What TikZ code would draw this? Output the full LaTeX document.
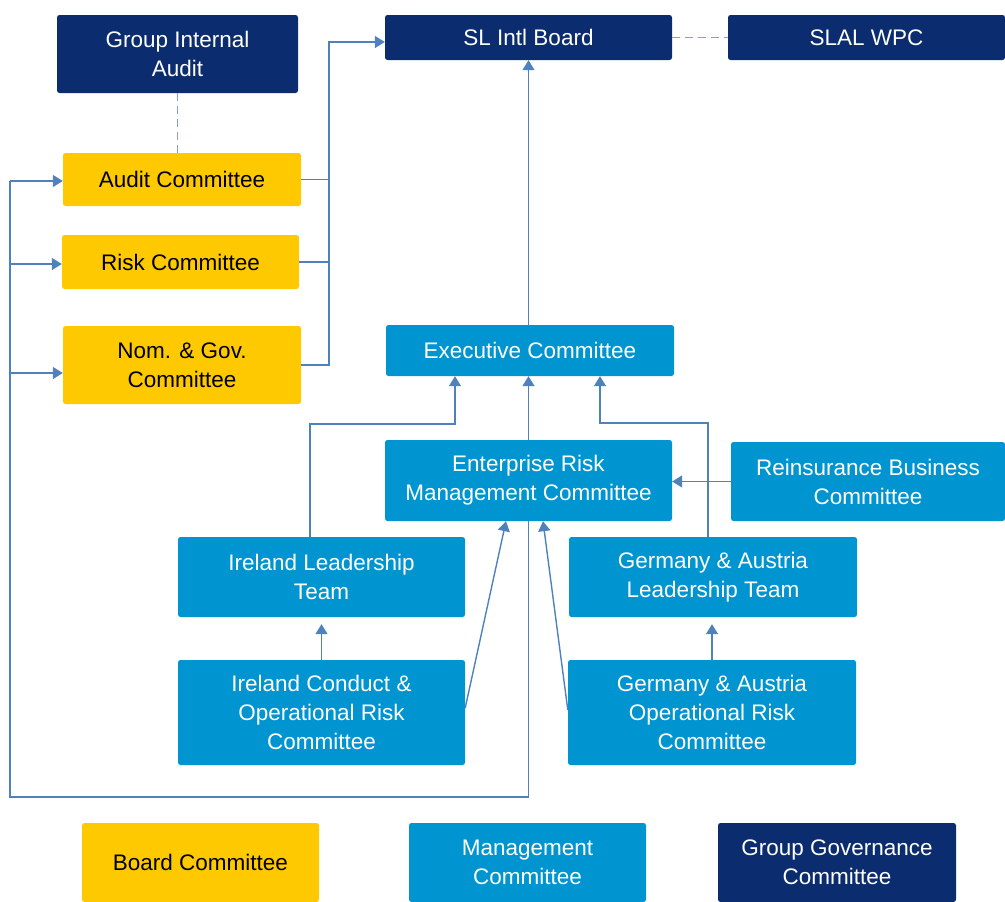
\documentclass[tikz,border=0pt]{standalone}
\usepackage{fontspec}
\setmainfont{Liberation Sans}
\usetikzlibrary{arrows.meta}
\definecolor{navy}{RGB}{11,45,111}
\definecolor{sky}{RGB}{0,149,208}
\definecolor{gold}{RGB}{255,201,0}
\definecolor{wire}{RGB}{79,129,189}
\definecolor{dashc}{RGB}{130,160,215}
\tikzset{
  box/.style={rounded corners=2.5pt, inner sep=0pt, align=center, font=\fontsize{22.5}{29}\selectfont},
  navybox/.style={box, fill=navy, text=white},
  skybox/.style={box, fill=sky, text=white},
  goldbox/.style={box, fill=gold, text=black},
  wireline/.style={draw=wire, line width=1.4pt},
  arr/.style={wireline, -{Triangle[length=10pt,width=12pt]}},
  dashline/.style={draw=dashc, line width=1.5pt, dash pattern=on 8pt off 5pt},
}
\begin{document}
\begin{tikzpicture}[x=1pt,y=-1pt]
\useasboundingbox (0,0) rectangle (1005,902);
% top row
\node[navybox, minimum width=241pt, minimum height=78pt] (gia) at (177.5,54) {Group Internal\\Audit};
\node[navybox, minimum width=287pt, minimum height=45pt] (brd) at (528.5,37.5) {SL Intl Board};
\node[navybox, minimum width=277pt, minimum height=45pt] (slal) at (866.5,37.5) {SLAL WPC};
% board committees
\node[goldbox, minimum width=238pt, minimum height=53pt] (audit) at (182,179.5) {Audit Committee};
\node[goldbox, minimum width=237pt, minimum height=54pt] (risk) at (180.5,262) {Risk Committee};
\node[goldbox, minimum width=238pt, minimum height=78pt] (nom) at (182,365) {Nom. \& Gov.\\Committee};
% management
\node[skybox, minimum width=288pt, minimum height=51pt] (exec) at (530,350.5) {Executive Committee};
\node[skybox, minimum width=287pt, minimum height=81pt] (erm) at (528.5,480.5) {Enterprise Risk\\Management Committee};
\node[skybox, minimum width=274pt, minimum height=79pt] (reins) at (868,481.5) {Reinsurance Business\\Committee};
\node[skybox, minimum width=287pt, minimum height=80pt] (ilt) at (321.5,577) {Ireland Leadership\\Team};
\node[skybox, minimum width=288pt, minimum height=80pt] (galt) at (713,577) {Germany \& Austria\\Leadership Team};
\node[skybox, minimum width=287pt, minimum height=105pt] (icor) at (321.5,712.5) {Ireland Conduct \&\\Operational Risk\\Committee};
\node[skybox, minimum width=288pt, minimum height=105pt] (gaor) at (712,712.5) {Germany \& Austria\\Operational Risk\\Committee};
% legend
\node[goldbox, minimum width=237pt, minimum height=79pt] (lgold) at (200.5,862.5) {Board Committee};
\node[skybox, minimum width=237pt, minimum height=79pt] (lsky) at (527.5,862.5) {Management\\Committee};
\node[navybox, minimum width=238pt, minimum height=79pt] (lnavy) at (837,862.5) {Group Governance\\Committee};
% dashed links
\draw[dashline] (gia.south) -- (gia.south |- audit.north);
\draw[dashline] (brd.east) -- (slal.west);
% board committees to board
\coordinate (bus) at (329,42);
\draw[wireline] (audit.east) -- (audit.east -| bus);
\draw[wireline] (risk.east) -- (risk.east -| bus);
\draw[arr] (nom.east) -| (bus) -- ([yshift=-4.5pt]brd.west);
% loop from ERM to board committees
\coordinate (lb) at (10,797);
\coordinate (auin) at ([yshift=-1.5pt]audit.west);
\coordinate (rkin) at ([yshift=-2pt]risk.west);
\coordinate (nomin) at ([yshift=-8pt]nom.west);
\draw[wireline] (erm.south) |- (lb) -- (lb |- auin);
\draw[arr] (lb |- auin) -- (auin);
\draw[arr] (lb |- rkin) -- (rkin);
\draw[arr] (lb |- nomin) -- (nomin);
% management chain
\draw[arr] (brd.south |- exec.north) -- (brd.south);
\draw[arr] (erm.north) -- (erm.north |- exec.south);
\draw[arr] ([xshift=-11.5pt]ilt.north) -- ++(0,-113) -| ([xshift=-75pt]exec.south);
\draw[arr] ([xshift=-5pt]galt.north) -- ++(0,-114) -| ([xshift=70pt]exec.south);
\draw[arr] (reins.west) -- (reins.west -| erm.east);
\draw[arr] ([yshift=4.5pt]icor.east) -- ([xshift=-22.5pt]erm.south);
\draw[arr] ([yshift=2.5pt]gaor.west) -- ([xshift=14.5pt]erm.south);
\draw[arr] (icor.north) -- ([yshift=-7pt]ilt.south);
\draw[arr] (gaor.north) -- ([yshift=-7pt]galt.south -| gaor.north);
\end{tikzpicture}
\end{document}
